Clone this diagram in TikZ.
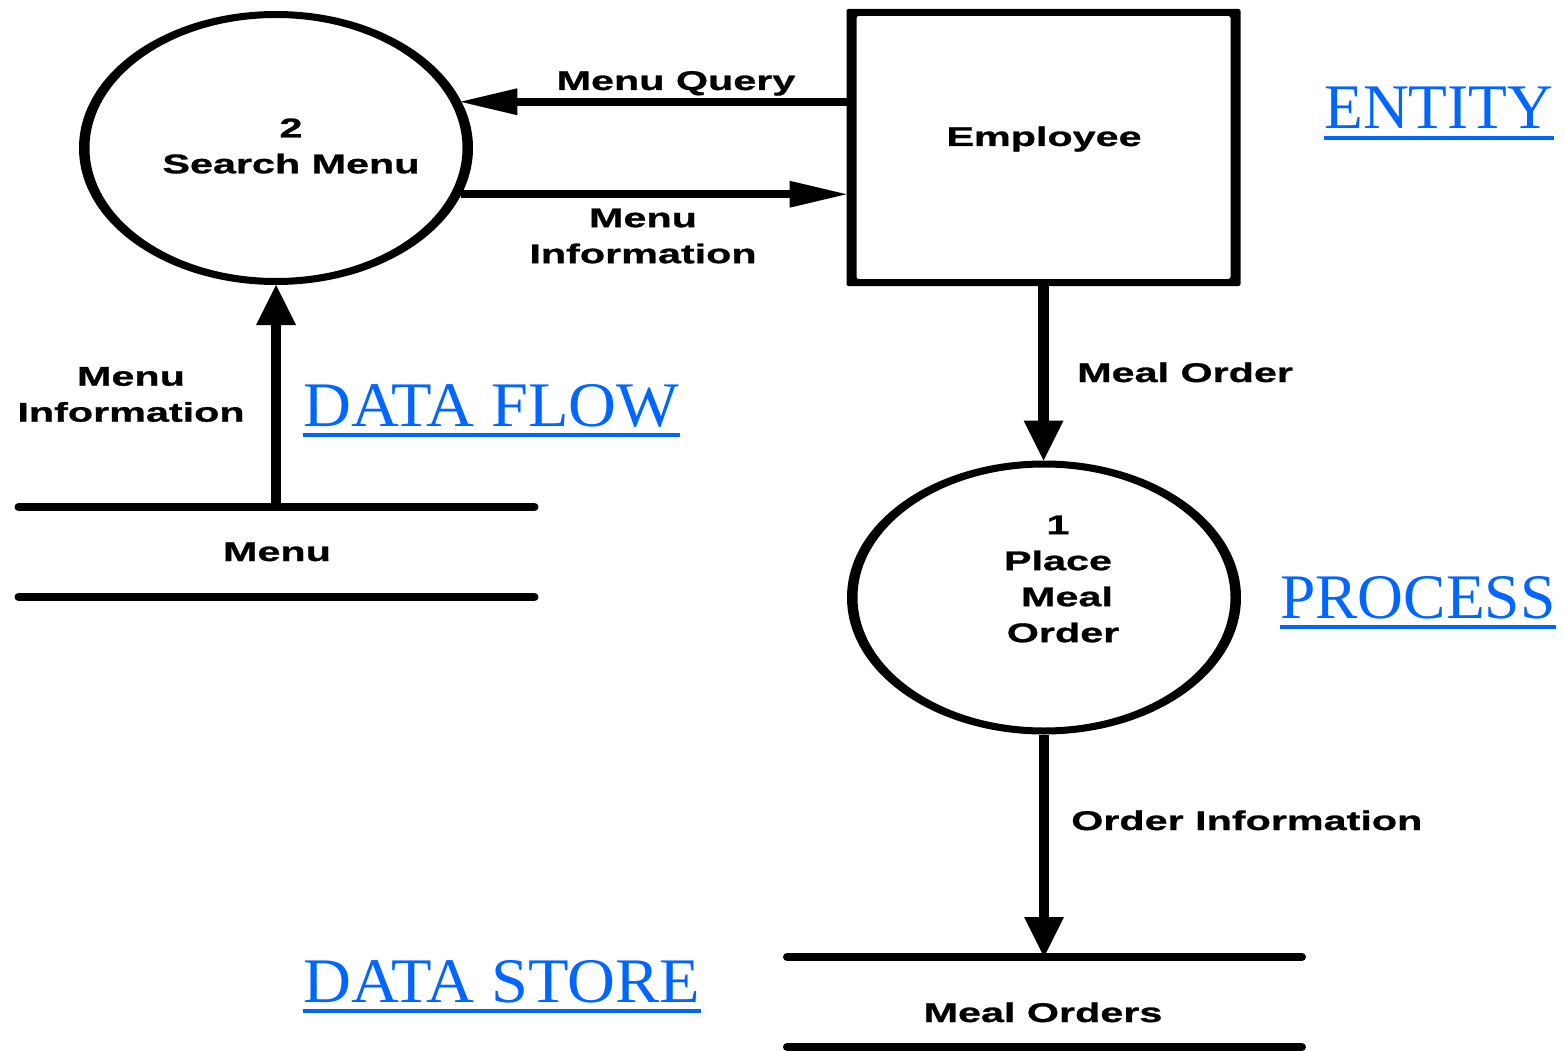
\documentclass[tikz,border=0pt]{standalone}
\usepackage{fontspec}
\usetikzlibrary{arrows.meta,shapes.geometric}
\newfontfamily\dfdfont[FakeStretch=1.53,FakeBold=1]{Liberation Sans Bold}
\newfontfamily\lblfont{Liberation Serif}
\newfontfamily\lblwidefont[FakeStretch=1.045]{Liberation Serif}
\definecolor{lnk}{RGB}{0,102,255}
\begin{document}
\begin{tikzpicture}[x=1pt,y=-1pt,
  txt/.style={font=\dfdfont\fontsize{27}{36}\selectfont, inner sep=0pt, align=center},
  legend/.style={font=\lblfont\fontsize{63.5}{70}\selectfont, text=lnk, inner sep=0pt, anchor=base west},
  widelegend/.style={legend, font=\lblwidefont\fontsize{63.5}{70}\selectfont},
  uline/.style={draw=lnk, line width=4pt},
  procshape/.style={ellipse, draw=none, inner sep=0pt, outer sep=0pt, minimum width=394pt, minimum height=274pt},
  entshape/.style={rectangle, draw=none, inner sep=0pt, outer sep=0pt, minimum width=394pt, minimum height=277pt},
  storeshape/.style={rectangle, draw=none, inner sep=0pt, outer sep=0pt, minimum height=90pt},
  storeline/.style={line width=8pt, line cap=round},
  harr/.style={line width=7.5pt, -{Triangle[length=57pt,width=27pt,line width=0pt]}},
  varr/.style={line width=10.5pt, -{Triangle[length=40pt,width=40pt,line width=0pt]}},
]
\useasboundingbox (0,0) rectangle (1566,1051);
\fill[white] (0,0) rectangle (1566,1051);

% shapes
\node[procshape] (sm) at (276,148) {};
\fill[even odd rule] (sm.center) ellipse [x radius=197, y radius=137] ellipse [x radius=186.5, y radius=130];
\node[procshape] (pmo) at (1044,597.5) {};
\fill[even odd rule] (pmo.center) ellipse [x radius=197, y radius=137] ellipse [x radius=186.5, y radius=130];
\node[entshape] (emp) at (1043.5,147.5) {};
\fill[even odd rule, rounded corners=2pt] (emp.south west) rectangle (emp.north east)
  ([shift={(10pt,7pt)}]emp.south west) rectangle ([shift={(-10pt,-7pt)}]emp.north east);
\node[storeshape, minimum width=516pt] (mstore) at (276.5,552) {};
\draw[storeline] (mstore.north west) -- (mstore.north east);
\draw[storeline] (mstore.south west) -- (mstore.south east);
\node[storeshape, minimum width=515pt] (ostore) at (1044.5,1002) {};
\draw[storeline] (ostore.north west) -- (ostore.north east);
\draw[storeline] (ostore.south west) -- (ostore.south east);

% connectors
\draw[harr, shorten >=-1pt] (emp.west |- sm.14) -- (sm.14);
\draw[harr] (sm.-14) -- (emp.west |- sm.-14);
\draw[varr] (mstore.north -| sm.south) -- (sm.south);
\draw[varr] (emp.south) -- (emp.south |- pmo.north);
\draw[varr] (pmo.south) -- (pmo.south |- ostore.north);

% texts
\node[txt] (t-sm) at (291,146) {2\\Search Menu};
\node[txt] (t-pmo) at (1058,579) {1\\Place\\\hspace*{18pt}Meal\\\hspace*{10pt}Order};
\node[txt, anchor=base] (t-emp) at (1044,146) {Employee};
\node[txt, anchor=base] (t-ms) at (277,561) {Menu};
\node[txt, anchor=base] (t-mos) at (1043,1022) {Meal Orders};
\node[txt, anchor=base] (t-mq) at (676,90) {Menu Query};
\node[txt] (t-mi1) at (643,236) {Menu\\Information};
\node[txt] (t-mi2) at (131,394.5) {Menu\\Information};
\node[txt, anchor=base west] (t-mo) at (1077,382) {Meal Order};
\node[txt, anchor=base west] (t-oi) at (1071,830) {Order Information};

% legend
\node[legend] (l-ent) at (1324,129) {ENTITY};
\draw[uline] ([yshift=-9pt]l-ent.base west) -- ([yshift=-9pt]l-ent.base east);
\node[widelegend] (l-df) at (303,426) {DATA FLOW};
\draw[uline] ([yshift=-9pt]l-df.base west) -- ([yshift=-9pt]l-df.base east);
\node[legend] (l-pr) at (1280,618) {PROCESS};
\draw[uline] ([yshift=-9pt]l-pr.base west) -- ([yshift=-9pt]l-pr.base east);
\node[widelegend] (l-ds) at (303,1002) {DATA STORE};
\draw[uline] ([yshift=-9pt]l-ds.base west) -- ([yshift=-9pt]l-ds.base east);
\end{tikzpicture}
\end{document}
